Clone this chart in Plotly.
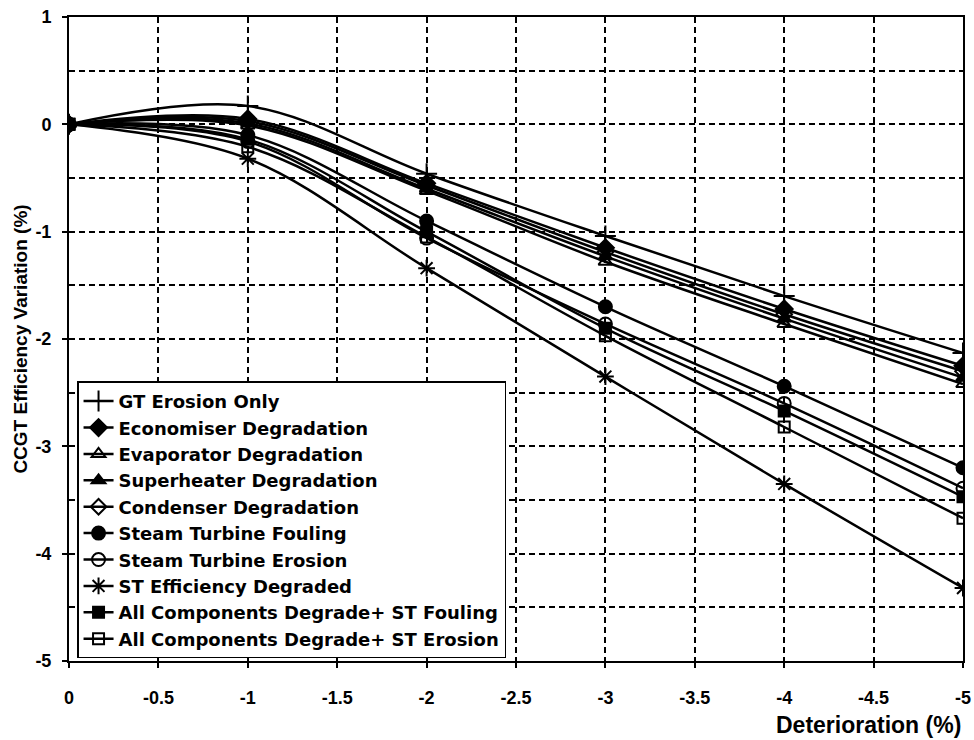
import plotly.graph_objects as go

# Deterioration levels (%)
deterioration = [0, -1, -2, -3, -4, -5]

# CCGT efficiency variation (%) for each degradation case
series_names = [
    "GT Erosion Only",
    "Economiser Degradation",
    "Evaporator Degradation",
    "Superheater Degradation",
    "Condenser Degradation",
    "Steam Turbine Fouling",
    "Steam Turbine Erosion",
    "ST Efficiency Degraded",
    "All Components Degrade+ ST Fouling",
    "All Components Degrade+ ST Erosion",
]
gt_erosion = [0, 0.17, -0.46, -1.04, -1.60, -2.13]
economiser = [0, 0.05, -0.55, -1.15, -1.72, -2.25]
evaporator = [0, -0.01, -0.62, -1.28, -1.86, -2.42]
superheater = [0, 0.01, -0.60, -1.23, -1.81, -2.36]
condenser = [0, 0.03, -0.57, -1.19, -1.77, -2.30]
st_fouling = [0, -0.10, -0.90, -1.70, -2.44, -3.20]
st_erosion = [0, -0.16, -1.06, -1.86, -2.60, -3.39]
st_efficiency = [0, -0.32, -1.34, -2.35, -3.35, -4.32]
all_fouling = [0, -0.14, -1.00, -1.90, -2.67, -3.47]
all_erosion = [0, -0.21, -1.05, -1.97, -2.82, -3.67]

series_values = [gt_erosion, economiser, evaporator, superheater, condenser,
                 st_fouling, st_erosion, st_efficiency, all_fouling, all_erosion]

# Marker style per series
symbols = ["cross-thin-open", "diamond", "triangle-up-open", "triangle-up",
           "diamond-open", "circle", "circle-open", "asterisk-open",
           "square", "square-open"]
sizes = [15, 13, 12, 12, 12, 13, 13, 14, 11, 11]

x_tick_vals = [0, -0.5, -1, -1.5, -2, -2.5, -3, -3.5, -4, -4.5, -5]
x_tick_text = ["0", "-0.5", "-1", "-1.5", "-2", "-2.5", "-3", "-3.5", "-4", "-4.5", "-5"]
y_tick_vals = [1, 0, -1, -2, -3, -4, -5]
y_tick_text = ["1", "0", "-1", "-2", "-3", "-4", "-5"]

FONT = "Liberation Sans, Arial, sans-serif"
LEGEND_FONT = "DejaVu Sans, Liberation Sans, sans-serif"
DASH = "6px,4px"

fig = go.Figure()
for name, vals, sym, sz in zip(series_names, series_values, symbols, sizes):
    fig.add_trace(go.Scatter(
        x=deterioration, y=vals, name=name,
        mode="lines+markers",
        line=dict(color="black", width=2.5, shape="spline", smoothing=1),
        marker=dict(symbol=sym, size=sz, color="black",
                    line=dict(color="black", width=2)),
    ))

grid_style = dict(showgrid=True, gridcolor="black", gridwidth=1.8, griddash=DASH)

fig.update_layout(
    width=974, height=740,
    margin=dict(l=69, r=11, t=17, b=79, autoexpand=False),
    paper_bgcolor="white", plot_bgcolor="white",
    font=dict(family=FONT, color="black"),
    showlegend=True,
    legend=dict(
        x=0.009, y=0.004, xanchor="left", yanchor="bottom",
        bgcolor="white", bordercolor="black", borderwidth=1.5,
        font=dict(family=LEGEND_FONT, size=18, color="black", weight="bold"),
        tracegroupgap=0,
    ),
    xaxis=dict(
        range=[0, -5], tickvals=x_tick_vals, ticktext=x_tick_text,
        tickfont=dict(family=FONT, size=18, color="black", weight="bold"),
        ticks="outside", ticklen=5, tickcolor="black", tickwidth=1.5,
        ticklabelstandoff=14, automargin=False,
        showline=True, linecolor="black", linewidth=2, mirror=True,
        zeroline=False, **grid_style,
    ),
    yaxis=dict(
        range=[-5, 1], tickvals=y_tick_vals, ticktext=y_tick_text,
        tickfont=dict(family=FONT, size=18, color="black", weight="bold"),
        ticks="outside", ticklen=5, tickcolor="black", tickwidth=1.5,
        ticklabelstandoff=7, automargin=False,
        showline=True, linecolor="black", linewidth=2, mirror=True,
        zeroline=False, **grid_style,
        minor=dict(dtick=0.5, showgrid=True, gridcolor="black", gridwidth=1.8,
                   griddash=DASH, ticks=""),
        title=dict(text="CCGT Efficiency Variation (%)", standoff=3,
                   font=dict(family=FONT, size=19, color="black", weight="bold")),
    ),
    annotations=[dict(
        text="Deterioration (%)", xref="paper", yref="paper",
        x=1.0, y=-0.076, xanchor="right", yanchor="top", showarrow=False,
        font=dict(family=FONT, size=23, color="black", weight="bold"),
    )],
)

fig.write_html("out.html")
